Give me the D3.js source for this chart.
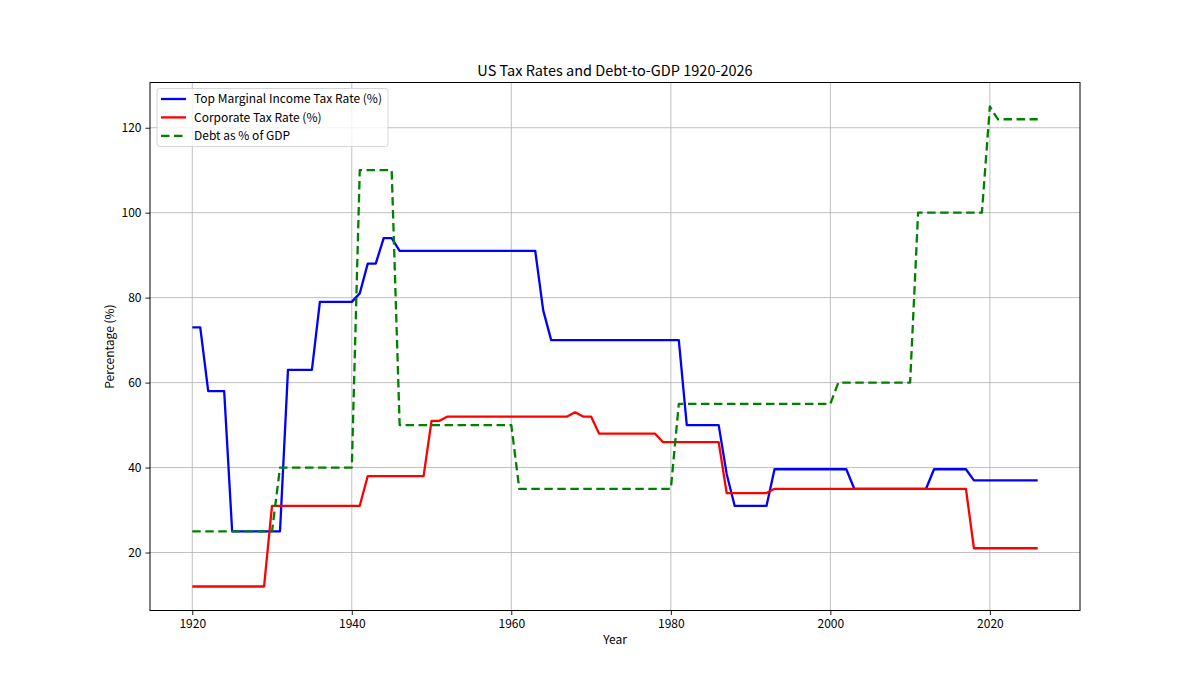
<!DOCTYPE html>
<html>
<head>
<meta charset="utf-8">
<script src="https://cdn.jsdelivr.net/npm/d3@7"></script>
<style>
  body { margin: 0; background: #fff; }
  svg text { font-family: "Noto Sans CJK JP", "Noto Sans", sans-serif; fill: #000; }
</style>
</head>
<body>
<svg id="chart" width="1200" height="686"></svg>
<script>
// years 1920..2026
var years = d3.range(1920, 2027);

// top marginal income tax rate, one value per year
var incomeRate = [
    73, 73, 58, 58, 58, 25, 25, 25, 25, 25,            // 1920-1929
    25, 25, 63, 63, 63, 63, 79, 79, 79, 79,            // 1930-1939
    79, 81, 88, 88, 94, 94, 91, 91, 91, 91,            // 1940-1949
    91, 91, 91, 91, 91, 91, 91, 91, 91, 91,            // 1950-1959
    91, 91, 91, 91, 77, 70, 70, 70, 70, 70,            // 1960-1969
    70, 70, 70, 70, 70, 70, 70, 70, 70, 70,            // 1970-1979
    70, 70, 50, 50, 50, 50, 50, 38.5, 31, 31,          // 1980-1989
    31, 31, 31, 39.6, 39.6, 39.6, 39.6, 39.6, 39.6, 39.6, // 1990-1999
    39.6, 39.6, 39.6, 35, 35, 35, 35, 35, 35, 35,      // 2000-2009
    35, 35, 35, 39.6, 39.6, 39.6, 39.6, 39.6, 37, 37,  // 2010-2019
    37, 37, 37, 37, 37, 37, 37                         // 2020-2026
];

// corporate tax rate
var corporateRate = [
    12, 12, 12, 12, 12, 12, 12, 12, 12, 12,            // 1920-1929
    31, 31, 31, 31, 31, 31, 31, 31, 31, 31,            // 1930-1939
    31, 31, 38, 38, 38, 38, 38, 38, 38, 38,            // 1940-1949
    51, 51, 52, 52, 52, 52, 52, 52, 52, 52,            // 1950-1959
    52, 52, 52, 52, 52, 52, 52, 52, 53, 52,            // 1960-1969
    52, 48, 48, 48, 48, 48, 48, 48, 48, 46,            // 1970-1979
    46, 46, 46, 46, 46, 46, 46, 34, 34, 34,            // 1980-1989
    34, 34, 34, 35, 35, 35, 35, 35, 35, 35,            // 1990-1999
    35, 35, 35, 35, 35, 35, 35, 35, 35, 35,            // 2000-2009
    35, 35, 35, 35, 35, 35, 35, 35, 21, 21,            // 2010-2019
    21, 21, 21, 21, 21, 21, 21                         // 2020-2026
];

// federal debt as a share of GDP
var debtToGdp = [
    25, 25, 25, 25, 25, 25, 25, 25, 25, 25,            // 1920-1929
    25, 40, 40, 40, 40, 40, 40, 40, 40, 40,            // 1930-1939
    40, 110, 110, 110, 110, 110, 50, 50, 50, 50,       // 1940-1949
    50, 50, 50, 50, 50, 50, 50, 50, 50, 50,            // 1950-1959
    50, 35, 35, 35, 35, 35, 35, 35, 35, 35,            // 1960-1969
    35, 35, 35, 35, 35, 35, 35, 35, 35, 35,            // 1970-1979
    35, 55, 55, 55, 55, 55, 55, 55, 55, 55,            // 1980-1989
    55, 55, 55, 55, 55, 55, 55, 55, 55, 55,            // 1990-1999
    55, 60, 60, 60, 60, 60, 60, 60, 60, 60,            // 2000-2009
    60, 100, 100, 100, 100, 100, 100, 100, 100, 100,   // 2010-2019
    125, 122, 122, 122, 122, 122, 122                  // 2020-2026
];

var xTicks = [1920, 1940, 1960, 1980, 2000, 2020];
var yTicks = [20, 40, 60, 80, 100, 120];

var seriesNames = ['Top Marginal Income Tax Rate (%)', 'Corporate Tax Rate (%)', 'Debt as % of GDP'];
var seriesColors = ['#0000ff', '#ff0000', '#008000'];
var seriesDash = [null, null, '8.5,4.5'];
var seriesValues = [incomeRate, corporateRate, debtToGdp];

(function () {
    'use strict';

    var svg = d3.select('#chart'),
        left = 150, right = 1080, top = 82.5, bottom = 610.5,
        lw = 2.3,
        fs = 12;

    // matplotlib style 5% padding around the data range
    var xPad = (2026 - 1920) * 0.05,
        yMin = d3.min(seriesValues, function (s) { return d3.min(s); }),
        yMax = d3.max(seriesValues, function (s) { return d3.max(s); }),
        yPad = (yMax - yMin) * 0.05;

    var x = d3.scaleLinear().domain([1920 - xPad, 2026 + xPad]).range([left, right]);
    var y = d3.scaleLinear().domain([yMin - yPad, yMax + yPad]).range([bottom, top]);

    // grid
    var grid = svg.append('g').attr('stroke', '#b0b0b0').attr('stroke-width', 0.8);
    grid.selectAll('.gx').data(xTicks).enter().append('line')
        .attr('x1', x).attr('x2', x).attr('y1', top).attr('y2', bottom);
    grid.selectAll('.gy').data(yTicks).enter().append('line')
        .attr('y1', y).attr('y2', y).attr('x1', left).attr('x2', right);

    // lines
    var line = d3.line()
        .x(function (d, i) { return x(years[i]); })
        .y(function (d) { return y(d); });

    seriesValues.forEach(function (vals, k) {
        svg.append('path')
            .datum(vals)
            .attr('fill', 'none')
            .attr('stroke', seriesColors[k])
            .attr('stroke-width', lw)
            .attr('stroke-linejoin', 'round')
            .attr('stroke-dasharray', seriesDash[k])
            .attr('d', line);
    });

    // frame
    svg.append('rect')
        .attr('x', left).attr('y', top)
        .attr('width', right - left).attr('height', bottom - top)
        .attr('fill', 'none').attr('stroke', '#000').attr('stroke-width', 1);

    // axes
    var xAxis = svg.append('g')
        .attr('transform', 'translate(0,' + bottom + ')')
        .call(d3.axisBottom(x).tickValues(xTicks).tickFormat(d3.format('d')).tickSizeOuter(0).tickSize(4.5).tickPadding(4));
    var yAxis = svg.append('g')
        .attr('transform', 'translate(' + left + ',0)')
        .call(d3.axisLeft(y).tickValues(yTicks).tickSizeOuter(0).tickSize(4.5).tickPadding(4));

    [xAxis, yAxis].forEach(function (a) {
        a.select('.domain').remove();
        a.selectAll('text').attr('font-size', fs).attr('font-family', null);
        a.selectAll('line').attr('stroke', '#000').attr('stroke-width', 0.9);
    });

    // labels
    svg.append('text')
        .attr('x', (left + right) / 2).attr('y', 76)
        .attr('text-anchor', 'middle').attr('font-size', 14.5)
        .text('US Tax Rates and Debt-to-GDP 1920-2026');
    svg.append('text')
        .attr('x', (left + right) / 2).attr('y', 644)
        .attr('text-anchor', 'middle').attr('font-size', fs)
        .text('Year');
    svg.append('text')
        .attr('transform', 'translate(114,' + (top + bottom) / 2 + ') rotate(-90)')
        .attr('text-anchor', 'middle').attr('font-size', fs)
        .text('Percentage (%)');

    // legend
    var legend = svg.append('g');
    legend.append('rect')
        .attr('x', 157).attr('y', 88.5).attr('width', 231).attr('height', 58)
        .attr('rx', 2.5)
        .attr('fill', '#fff').attr('fill-opacity', 0.8)
        .attr('stroke', '#cccccc').attr('stroke-width', 0.8);
    seriesNames.forEach(function (name, k) {
        var ly = 99 + k * 18.4;
        legend.append('line')
            .attr('x1', 161).attr('x2', 186).attr('y1', ly).attr('y2', ly)
            .attr('stroke', seriesColors[k]).attr('stroke-width', lw)
            .attr('stroke-dasharray', seriesDash[k]);
        legend.append('text')
            .attr('x', 194).attr('y', ly + 4.2)
            .attr('font-size', fs)
            .text(name);
    });
}());
</script>
</body>
</html>
